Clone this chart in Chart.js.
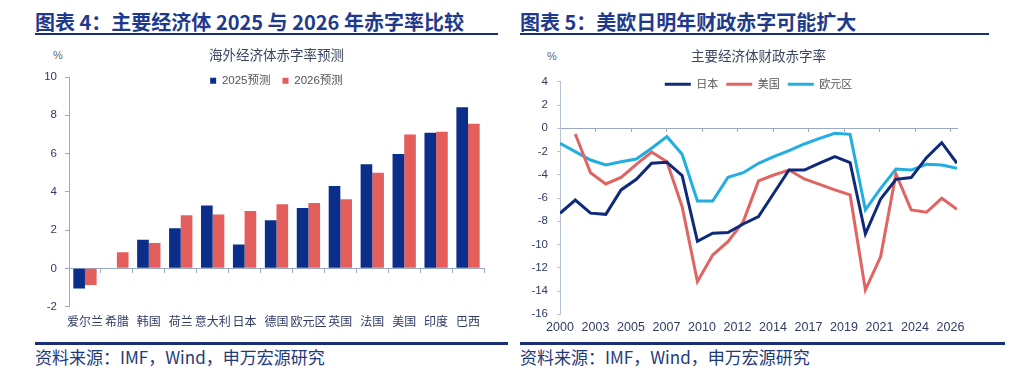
<!DOCTYPE html>
<html><head><meta charset="utf-8">
<script src="https://cdn.jsdelivr.net/npm/chart.js@4.4.1/dist/chart.umd.min.js"></script>
<style>
html,body{margin:0;padding:0;background:#fff;width:1024px;height:378px;overflow:hidden;}
.abs{position:absolute;}
.ttl{font-family:"Noto Sans CJK SC",sans-serif;font-weight:700;font-size:20px;line-height:20px;color:#1f3a8c;white-space:nowrap;}
.rule{background:#1b2f78;}
.src{font-family:"Noto Sans CJK SC",sans-serif;font-size:17px;line-height:18px;color:#1f3a7a;white-space:nowrap;}
.pct{font-family:"Liberation Sans",Arial,sans-serif;font-size:11px;color:#666;}
canvas{position:absolute;top:0;}
</style></head>
<body>
<div class="abs ttl" style="left:35px;top:12px;">图表 4：主要经济体 2025 与 2026 年赤字率比较</div>
<div class="abs rule" style="left:35px;top:33px;width:463px;height:2px;"></div>
<div class="abs ttl" style="left:520px;top:12px;">图表 5：美欧日明年财政赤字可能扩大</div>
<div class="abs rule" style="left:520px;top:33px;width:469px;height:2px;"></div>
<div class="abs pct" style="left:53px;top:49px;">%</div>
<div class="abs pct" style="left:547px;top:50px;">%</div>
<div class="abs rule" style="left:35px;top:342px;width:473px;height:3px;"></div>
<div class="abs rule" style="left:520px;top:342px;width:485px;height:3px;"></div>
<div class="abs src" style="left:35px;top:348px;">资料来源：IMF，Wind，申万宏源研究</div>
<div class="abs src" style="left:520px;top:348px;">资料来源：IMF，Wind，申万宏源研究</div>
<canvas id="c1" width="512" height="378" style="left:0;width:512px;height:378px;"></canvas>
<canvas id="c2" width="512" height="378" style="left:512px;width:512px;height:378px;"></canvas>
<script>
// ---- Left chart data ----
const countries = ['爱尔兰','希腊','韩国','荷兰','意大利','日本','德国','欧元区','英国','法国','美国','印度','巴西'];
const forecast2025 = [-1.05, 0, 1.50, 2.09, 3.29, 1.24, 2.51, 3.15, 4.30, 5.44, 5.98, 7.09, 8.42];
const forecast2026 = [-0.87, 0.84, 1.32, 2.77, 2.82, 3.00, 3.35, 3.41, 3.61, 5.00, 7.00, 7.14, 7.56];
const leftSeriesNames = ['2025预测','2026预测'];

// ---- Right chart data ----
const years = [2000,2001,2002,2003,2004,2005,2006,2007,2008,2009,2010,2011,2012,2013,2014,2015,2016,2017,2018,2019,2020,2021,2022,2023,2024,2025,2026];
const japan = [-7.31,-6.17,-7.30,-7.40,-5.30,-4.39,-3.01,-2.92,-4.07,-9.72,-9.03,-8.97,-8.23,-7.60,-5.59,-3.59,-3.59,-3.00,-2.44,-2.96,-9.09,-6.08,-4.39,-4.24,-2.53,-1.24,-3.01];
const usa = [null,-0.49,-3.82,-4.79,-4.22,-3.10,-2.04,-2.87,-6.74,-13.19,-10.90,-9.75,-8.03,-4.53,-4.02,-3.59,-4.36,-4.82,-5.30,-5.73,-13.90,-11.04,-3.93,-7.02,-7.22,-6.02,-6.97];
const euroArea = [-1.29,-2.01,-2.73,-3.16,-2.87,-2.64,-1.72,-0.72,-2.24,-6.25,-6.25,-4.22,-3.82,-3.01,-2.44,-1.92,-1.35,-0.86,-0.43,-0.52,-7.02,-5.16,-3.50,-3.59,-3.10,-3.16,-3.44];
const rightSeriesNames = ['日本','美国','欧元区'];
const yearTickLabels = ['2000','2003','2005','2007','2010','2012','2014','2017','2019','2021','2024','2026'];

const FONT = '"Liberation Sans", "Noto Sans CJK SC", sans-serif';
const CJK = '"Noto Sans CJK SC", "Liberation Sans", sans-serif';
const axisColor = '#9aaac4';
const tickColor = '#2f3b66';

// legend laid out at the top without taking space, then moved down into the plot
function legendInside(dy){
  return {
    id: 'legendInside',
    beforeLayout(chart){
      const l = chart.legend;
      if (l && !l._zeroFit){
        const f = l.fit.bind(l);
        l.fit = function(){ f(); this._realH = this.height; this.height = 0; };
        l._zeroFit = true;
      }
    },
    afterLayout(chart){
      const l = chart.legend;
      if (l){ l.top += dy; l.height = l._realH || 0; l.bottom = l.top + l.height; }
    }
  };
}

// ---- Left chart ----
new Chart(document.getElementById('c1'), {
  type: 'bar',
  data: {
    labels: countries,
    datasets: [
      { label: leftSeriesNames[0], data: forecast2025, backgroundColor: '#0b2e8a', borderWidth: 0 },
      { label: leftSeriesNames[1], data: forecast2026, backgroundColor: '#e45f5c', borderWidth: 0 }
    ]
  },
  options: {
    responsive: false, animation: false,
    layout: { padding: { left: 0, right: 28, top: 47, bottom: 41.4 } },
    datasets: { bar: { categoryPercentage: 0.73, barPercentage: 1.0 } },
    plugins: {
      title: { display: true, text: '海外经济体赤字率预测', fullSize: false, color: '#3b4663',
               font: { family: CJK, size: 13.5, weight: 'normal', lineHeight: 1.2 }, padding: { top: 0, bottom: 13.8 } },
      legend: { position: 'top', align: 'center', fullSize: false,
                labels: { boxWidth: 6, boxHeight: 6, padding: 12, color: '#555', font: { family: FONT, size: 11.5 } } },
      tooltip: { enabled: false }
    },
    scales: {
      x: { type: 'category', position: 'bottom', grid: { display: false, drawTicks: false }, border: { display: false },
           ticks: { color: tickColor, font: { family: CJK, size: 12 }, padding: 8, autoSkip: false, maxRotation: 0 },
           afterFit(s){ s.height = 30; } },
      x2: { type: 'category', axis: 'x', labels: countries, position: { y: 0 }, offset: true,
            grid: { offset: true, drawOnChartArea: false, drawTicks: true, tickLength: 4, color: axisColor },
            border: { display: true, color: axisColor, width: 1 }, ticks: { display: false } },
      y: { min: -2, max: 10, position: 'left',
           ticks: { stepSize: 2, color: tickColor, font: { family: FONT, size: 11.5 }, padding: 8 },
           grid: { drawOnChartArea: false, drawTicks: true, tickLength: 4, color: axisColor },
           border: { display: true, color: axisColor, width: 1 },
           afterFit(s){ s.width = 69; } }
    }
  },
  plugins: [legendInside(-14)]
});

// ---- Right chart ----
const tickStep = 2.325;
new Chart(document.getElementById('c2'), {
  type: 'line',
  data: {
    labels: years,
    datasets: [
      { label: rightSeriesNames[0], data: japan, borderColor: '#0f2a7a', backgroundColor: '#0f2a7a', borderWidth: 3, pointRadius: 0, tension: 0 },
      { label: rightSeriesNames[1], data: usa, borderColor: '#e06462', backgroundColor: '#e06462', borderWidth: 3, pointRadius: 0, tension: 0 },
      { label: rightSeriesNames[2], data: euroArea, borderColor: '#22aee0', backgroundColor: '#22aee0', borderWidth: 3, pointRadius: 0, tension: 0 }
    ]
  },
  options: {
    responsive: false, animation: false,
    layout: { padding: { left: 0, right: 67, top: 48, bottom: 33.7 } },
    plugins: {
      title: { display: true, text: '主要经济体财政赤字率', fullSize: false, color: '#3b4663',
               font: { family: CJK, size: 13.5, weight: 'normal', lineHeight: 1.2 }, padding: { top: 0, bottom: 17.6 } },
      legend: { position: 'top', align: 'center', fullSize: false,
                labels: { boxWidth: 26, boxHeight: 0, padding: 8, color: '#555', font: { family: CJK, size: 11 } } },
      tooltip: { enabled: false }
    },
    scales: {
      x: { type: 'linear', position: 'bottom', min: 2000, max: 2026,
           grid: { display: false, drawTicks: false }, border: { display: false },
           afterBuildTicks(s){ s.ticks = yearTickLabels.map((_, i) => ({ value: 2000 + i * tickStep })); },
           ticks: { autoSkip: false, maxRotation: 0, color: tickColor, font: { family: FONT, size: 12.5 }, padding: 5.5,
                    callback: (v, i) => yearTickLabels[i] },
           afterFit(s){ s.height = 30; } },
      x2: { type: 'linear', axis: 'x', position: { y: 0 }, min: 2000, max: 2026,
            afterBuildTicks(s){ s.ticks = yearTickLabels.map((_, i) => ({ value: 2000 + i * tickStep })); },
            grid: { drawOnChartArea: false, drawTicks: true, tickLength: 3, color: axisColor },
            border: { display: true, color: axisColor, width: 1 }, ticks: { display: false } },
      y: { min: -16, max: 4, position: 'left',
           ticks: { stepSize: 2, color: tickColor, font: { family: FONT, size: 11.5 }, padding: 9 },
           grid: { drawOnChartArea: false, drawTicks: true, tickLength: 3, color: '#b8c4d6' },
           border: { display: true, color: '#b8c4d6', width: 1 },
           afterFit(s){ s.width = 48; } }
    }
  },
  plugins: [legendInside(-11)]
});
</script>
</body></html>
